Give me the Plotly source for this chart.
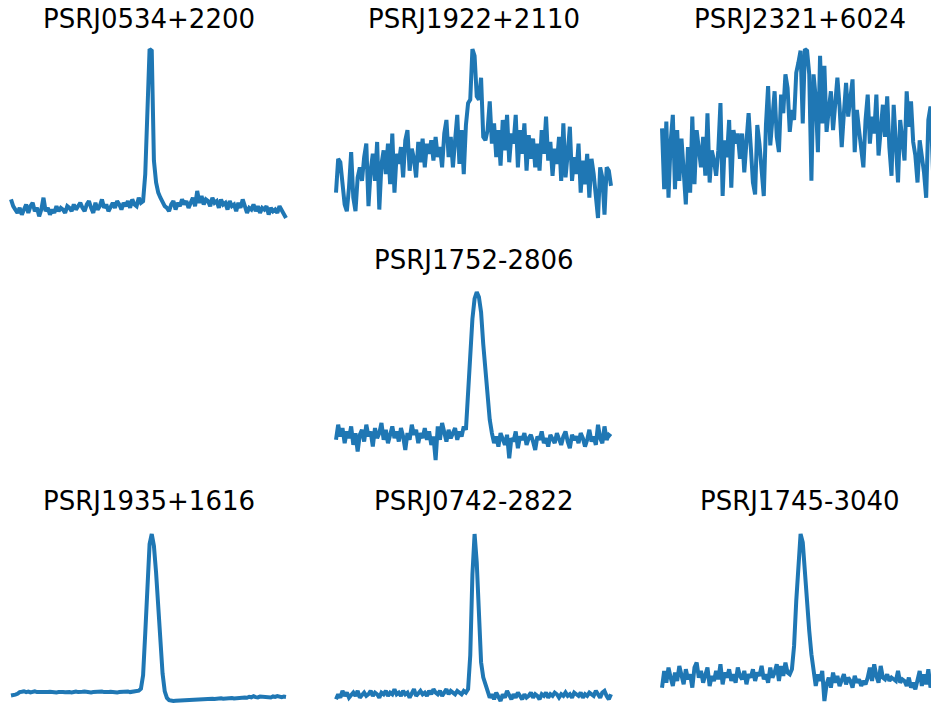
import plotly.graph_objects as go

# Integrated pulse profiles (normalised intensity, 0-100) per phase bin
J0534_2200 = [
    11, 7, 5, 3, 6, 2, 5, 8, 3, 7, 9, 4, 6, 1, 5, 12, 4, 6, 2, 5,
    3, 7, 4, 6, 5, 3, 7, 6, 4, 8, 5, 7, 9, 6, 4, 8, 10, 6, 3, 9,
    5, 7, 11, 6, 8, 4, 7, 9, 6, 10, 8, 5, 9, 7, 10, 6, 11, 8, 7, 12,
    9, 10,
    26, 62, 100, 99, 34, 21, 15, 12, 9, 7,
    6, 4, 8, 10, 5, 9, 7, 11, 8, 10, 6, 9, 12, 7, 16, 9, 13, 8, 11, 10,
    7, 12, 9, 10, 6, 11, 8, 9, 5, 10, 7, 8, 4, 9, 6, 11, 7, 3, 6, 5,
    8, 4, 7, 3, 6, 5, 7, 2, 6, 4, 5, 3, 7, 5, 2, 0,
]

J1922_2110 = [
    15, 35, 33, 20, 8, 4, 18, 39, 12, 4, 24, 30, 22, 36, 44, 7, 28, 38, 22, 45,
    5, 32, 40, 26, 44, 20, 50, 15, 38, 32, 42, 24, 46, 52, 28, 41, 35, 24, 45, 33,
    47, 30, 44, 38, 46, 34, 48, 36, 42, 30, 50, 58, 36, 48, 30, 46, 61, 32, 52, 26,
    55, 68, 70, 100, 96, 72, 70, 83, 48, 46, 52, 69, 44, 56, 36, 52, 31, 58, 40, 61,
    33, 50, 44, 61, 30, 52, 38, 56, 28, 49, 35, 47, 30, 44, 28, 52, 38, 60, 34, 45,
    25, 41, 32, 48, 22, 56, 24, 38, 54, 22, 36, 26, 44, 15, 34, 20, 38, 12, 35, 26,
    10, 0, 30, 24, 2, 30, 28, 19,
]

J2321_6024 = [
    53, 17, 57, 12, 45, 61, 17, 52, 22, 47, 28, 8, 42, 15, 60, 20, 52, 39, 30, 48,
    25, 62, 21, 40, 34, 25, 40, 68, 13, 46, 36, 58, 18, 52, 44, 50, 35, 50, 27, 45,
    62, 42, 21, 14, 55, 44, 30, 13, 55, 78, 43, 60, 75, 48, 39, 73, 62, 85, 77, 51,
    64, 58, 86, 92, 99, 56, 100, 99, 85, 22, 85, 71, 39, 96, 56, 90, 51, 64, 75, 52,
    68, 83, 66, 42, 62, 80, 60, 71, 82, 39, 64, 52, 41, 30, 58, 73, 44, 60, 50, 73,
    37, 55, 67, 48, 72, 42, 25, 67, 46, 21, 58, 48, 34, 75, 54, 69, 45, 37, 21, 46,
    36, 27, 12, 58, 66, 30, 0, 40,
]

J1752_2806 = [
    12, 21, 14, 19, 10, 17, 13, 20, 9, 16, 5, 15, 18, 11, 21, 14, 17, 8, 19, 13,
    16, 22, 12, 18, 10, 15, 20, 13, 17, 11, 19, 14, 6, 16, 12, 21, 15, 18, 10, 16,
    13, 19, 12, 17, 9, 14, 0, 20, 12, 22, 15, 11, 18, 13, 16, 19, 12, 17, 14, 20,
    18, 40, 67, 84, 96, 100, 97, 88, 69, 53, 34, 24, 16,
    10, 14, 8, 16, 12, 9, 15, 1, 13, 11, 17, 7, 14, 12, 16, 9, 13, 15, 11, 6,
    14, 12, 17, 10, 13, 8, 15, 12, 10, 16, 13, 9, 14, 17, 11, 7, 15, 12, 14, 10,
    16, 13, 8, 12, 18, 11, 14, 9, 21, 13, 10, 20, 12, 15, 14,
]

J1935_1616 = [
    4, 4, 4.5, 5, 6,
    6.2, 6.5, 6, 6.3, 5.8, 6.1, 6.4, 6, 5.9, 6.3, 6.1, 5.7, 6, 6.2, 5.9, 6.1, 5.8, 6, 6.3, 6.1,
    5.9, 6.2, 6, 5.8, 6.1, 6.3, 6, 5.9, 6.2, 6.4, 6, 6.1, 5.8, 6, 6.2, 5.9, 6.1, 6.3, 6, 5.8,
    6.1, 6.2, 5.9, 6, 5.7, 6, 6.2, 5.9, 6.1, 6.4, 6, 6.2, 6.5, 6.8,
    6.8, 8, 16, 41, 74, 94, 100, 93, 77, 55.5, 36, 17, 6.5, 2.5, 1.2, 0.8,
    0.7, 0.8, 0.9, 0.8, 1, 1.1, 1, 1.2, 1.3, 1.2, 1.5, 1.4, 1.6, 1.8, 1.7, 1.9, 1.8, 2, 2.1, 1.9,
    2.2, 2.1, 2.3, 2, 2.2, 2.4, 2.3, 2.5, 2.2, 2.4, 2.6, 2.3, 2.5, 2.8, 2.6, 3.2, 2.9, 3.5, 3, 2.8,
    3.3, 3.1, 2.9, 3.2, 3, 2.8, 3.4, 3.1, 3.6, 3.2, 3, 3.3, 3.1,
]

J0742_2822 = [
    2, 5, 3, 7, 4, 6, 3, 5, 6, 4, 7, 3, 5, 6, 4, 5, 7, 4, 6, 5,
    3, 6, 5, 7, 4, 6, 5, 8, 5, 6, 4, 7, 5, 6, 3, 5, 8, 4, 6, 7,
    5, 6, 4, 7, 5, 8, 6, 5, 7, 4, 6, 8, 5, 7, 6, 5, 7, 6, 5, 7, 6,
    8, 28, 76, 100, 83, 50, 24, 15, 11, 6,
    3, 5, 2, 6, 4, 1, 5, 3, 7, 4, 2, 5, 3, 6, 4, 2, 5, 3, 4, 6,
    3, 5, 4, 2, 5, 4, 6, 3, 5, 4, 6, 5, 3, 5, 4, 6, 4, 5, 3, 6,
    5, 4, 6, 3, 5, 4, 6, 5, 4, 7, 5, 3, 6, 7, 4, 2, 5,
]

J1745_3040 = [
    8, 18, 11, 20, 14, 9, 17, 12, 21, 15, 10, 19, 13, 16, 8, 20, 23, 14, 18, 11,
    16, 20, 9, 15, 12, 18, 13, 22, 10, 17, 14, 19, 12, 16, 11, 20, 15, 13, 18, 10,
    16, 14, 19, 12, 17, 15, 21, 13, 16, 11, 20, 14, 17, 22, 12, 21, 15, 23, 17,
    16, 19, 33, 60, 85, 100, 95, 75, 57, 42, 28, 17, 9, 16, 12, 18, 0, 10,
    14, 8, 17, 11, 15, 9, 13, 16, 10, 14, 12, 8, 15, 11, 13, 9, 12, 10, 14, 20,
    12, 22, 15, 11, 21, 14, 13, 16, 12, 14, 13, 12, 18, 11, 13, 12, 9, 14, 8, 11,
    7, 13, 18, 9, 16, 10, 19, 8, 13, 11, 15,
]

# (title, profile, grid row, grid column)
panels = [
    ("PSRJ0534+2200", J0534_2200, 1, 1),
    ("PSRJ1922+2110", J1922_2110, 1, 2),
    ("PSRJ2321+6024", J2321_6024, 1, 3),
    ("PSRJ1752-2806", J1752_2806, 2, 2),
    ("PSRJ1935+1616", J1935_1616, 3, 1),
    ("PSRJ0742-2822", J0742_2822, 3, 2),
    ("PSRJ1745-3040", J1745_3040, 3, 3),
]

W, H = 931, 707
LINE = "#1f77b4"

# pixel geometry of the grid: where the curve sits, and the surrounding plot box
col_data_px = {1: (11, 286), 2: (336, 611), 3: (662, 937)}
col_dom_px = {1: (3, 294), 2: (328, 619), 3: (654, 931)}
row_data_px = {1: (49, 218), 2: (292, 460), 3: (534, 701)}
row_dom_px = {1: (40, 227), 2: (283, 469), 3: (525, 707)}
title_base_px = {1: 29, 2: 270, 3: 511}

fig = go.Figure()
layout = dict(
    width=W, height=H,
    margin=dict(l=0, r=0, t=0, b=0),
    paper_bgcolor="white", plot_bgcolor="white",
    showlegend=False,
    annotations=[],
)

for k, (name, prof, r, c) in enumerate(panels, 1):
    n = len(prof)
    xs = list(range(n))
    xl, xr = col_data_px[c]
    dl, dr = col_dom_px[c]
    sx = (xr - xl) / (n - 1)
    xrange = [-(xl - dl) / sx, (n - 1) + (dr - xr) / sx]

    yt, yb = row_data_px[r]
    dt, db = row_dom_px[r]
    vmin, vmax = min(prof), max(prof)
    sy = (yb - yt) / (vmax - vmin)
    yrange = [vmin - (db - yb) / sy, vmax + (yt - dt) / sy]

    sfx = "" if k == 1 else str(k)
    fig.add_trace(go.Scatter(
        x=xs, y=prof, mode="lines",
        line=dict(color=LINE, width=4),
        xaxis="x" + sfx, yaxis="y" + sfx,
        hoverinfo="skip",
    ))
    layout["xaxis" + sfx] = dict(domain=[dl / W, dr / W], range=xrange,
                                 visible=False, fixedrange=True,
                                 anchor="y" + sfx)
    layout["yaxis" + sfx] = dict(domain=[1 - db / H, 1 - dt / H], range=yrange,
                                 visible=False, fixedrange=True,
                                 anchor="x" + sfx)

    cx = (xl + xr) / 2
    layout["annotations"].append(dict(
        text=name, xref="paper", yref="paper",
        x=cx / W, y=1 - (title_base_px[r] + 7) / H,
        xanchor="center", yanchor="bottom", showarrow=False,
        font=dict(family="DejaVu Sans", size=26, color="black"),
    ))

fig.update_layout(**layout)
fig.write_html("out.html")
